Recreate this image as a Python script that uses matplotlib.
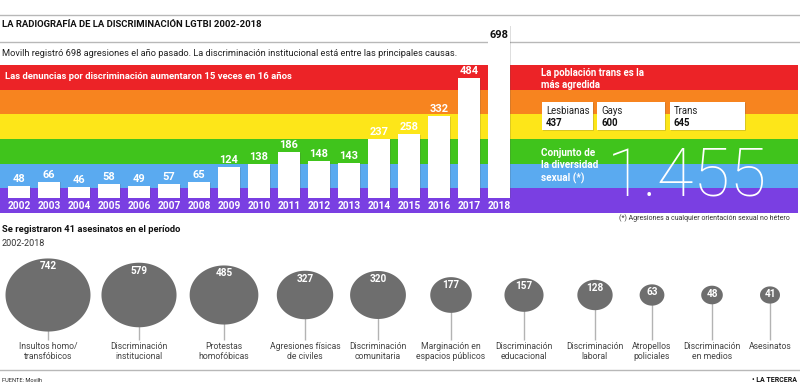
import numpy as np
import matplotlib
matplotlib.use('Agg')
import matplotlib.pyplot as plt
import matplotlib.patheffects as pe
from matplotlib.path import Path
from matplotlib.patches import Rectangle

plt.rcParams.update({
    'font.family': ['Roboto', 'DejaVu Sans'],
    'font.size': 7.5,
})

# ---- data ----
years = list(range(2002, 2019))
denuncias = [48, 66, 46, 58, 49, 57, 65, 124, 138, 186, 148, 143, 237, 258, 332, 484, 698]

grupos = ['Lesbianas', 'Gays', 'Trans']
grupos_val = [437, 600, 645]
total_diversidad = '1.455'

causas = ['Insultos homo/\ntransfóbicos', 'Discriminación\ninstitucional',
          'Protestas\nhomofóbicas', 'Agresiones físicas\nde civiles',
          'Discriminación\ncomunitaria', 'Marginación en\nespacios públicos',
          'Discriminación\neducacional', 'Discriminación\nlaboral',
          'Atropellos\npoliciales', 'Discriminación\nen medios', 'Asesinatos']
causas_val = [742, 579, 485, 327, 320, 177, 157, 128, 63, 48, 41]

# ---- layout / style ----
W, H = 800, 386
STRIPES = ['#ec2327', '#f7841f', '#fde619', '#40c41c', '#5aaaf0', '#7a3fe2']
BUBBLE_X = [48, 139, 224, 305, 378, 451, 524, 595, 652, 712, 770]
BUBBLE_Y = 295
BUBBLE_COL = '#6e6e6e'
PX = 72 / 100  # points per pixel

fig = plt.figure(figsize=(W / 100, H / 100), dpi=100)
renderer = fig.canvas.get_renderer()


def fit(txt, width_px):
    """scale a text's font so it spans width_px pixels"""
    w = txt.get_window_extent(renderer).width
    txt.set_fontsize(txt.get_fontsize() * width_px / w)
    return txt.get_fontsize()


bg = fig.add_axes([0, 0, 1, 1])
bg.set_xlim(0, W)
bg.set_ylim(H, 0)
bg.axis('off')

# header
for yl in (15, 41.5, 370):
    bg.plot([0, W], [yl, yl], color='#b8b8b8', lw=1)
fit(bg.text(2, 24.5, 'LA RADIOGRAFÍA DE LA DISCRIMINACIÓN LGTBI 2002-2018',
            fontweight='bold', va='center', color='#111111'), 258)
fit(bg.text(2, 53, 'Movilh registró 698 agresiones el año pasado. La discriminación '
            'institucional está entre las principales causas.',
            va='center', color='#222222'), 458)

# rainbow
band_h = (213 - 65) / len(STRIPES)
for i, c in enumerate(STRIPES):
    bg.add_patch(Rectangle((0, 65 + i * band_h), 798, band_h, color=c, lw=0))

fit(bg.text(5, 76.5, 'Las denuncias por discriminación aumentaron 15 veces en 16 años',
            fontweight='bold', color='white', va='center'), 285)

# right panel
fit(bg.text(541, 68.5, 'La población trans es la\nmás agredida',
            fontweight='bold', color='white', va='top', linespacing=1.2), 102)
box_x = [542, 597, 670]
box_w = [51, 68, 75]
fs_box = None
for bx_, bw, g, v in zip(box_x, box_w, grupos, grupos_val):
    r = Rectangle((bx_, 102), bw, 28, facecolor='white', lw=0)
    r.set_path_effects([pe.SimplePatchShadow(offset=(1, -1), alpha=0.2), pe.Normal()])
    bg.add_patch(r)
    t1 = bg.text(bx_ + 4, 111.5, g, color='#222222', va='center')
    t2 = bg.text(bx_ + 4, 123.5, str(v), fontweight='bold', color='#111111',
                 va='center')
    if fs_box is None:
        fs_box = fit(t1, 44)
    t1.set_fontsize(fs_box)
    t2.set_fontsize(fs_box)

fit(bg.text(541, 148, 'Conjunto de\nla diversidad\nsexual (*)',
            fontweight='bold', color='white', va='top', linespacing=1.25), 57)
big = bg.text(607, 170, total_diversidad, fontsize=50, color='white',
              va='center_baseline', ha='left', fontweight='light')
fit(big, 160)

fit(bg.text(790, 218, '(*) Agresiones a cualquier orientación sexual no hétero',
            ha='right', va='center', color='#333333'), 170)

# ---- bar chart ----
base_px, top_px, px_per_unit = 198, 8, 0.247
x0 = years[0] - 19 / 30
bx = fig.add_axes([0, (H - base_px) / H, 520 / W, (base_px - top_px) / H])
bx.patch.set_alpha(0)
bx.axis('off')
bx.set_xlim(x0, x0 + 520 / 30)
bx.set_ylim(0, (base_px - top_px) / px_per_unit)
bars = bx.bar(years, denuncias, width=22 / 30, color='white', lw=0)
for b in bars:
    b.set_path_effects([pe.SimplePatchShadow(offset=(1, -0.5), alpha=0.18), pe.Normal()])

probe = bx.text(0, 0, '186', fontweight='bold')
fs_val = fit(probe, 19)
probe.remove()
probe = bx.text(0, 0, '2002', fontweight='bold')
fs_year = fit(probe, 23)
probe.remove()

vmax = max(denuncias)
for yr, v in zip(years, denuncias):
    if v == vmax:
        bx.annotate(str(v), (yr, v), xytext=(0, -3), textcoords='offset points',
                    ha='center', va='top', fontsize=fs_val, fontweight='bold',
                    color='#111111')
    else:
        bx.annotate(str(v), (yr, v), xytext=(0, 1.5), textcoords='offset points',
                    ha='center', va='bottom', fontsize=fs_val, fontweight='bold',
                    color='white')
    bx.annotate(str(yr), (yr, 0), xytext=(0, -8 * PX), textcoords='offset points',
                ha='center', va='center', fontsize=fs_year, fontweight='bold',
                color='white')

# ---- bubbles ----
fit(bg.text(2, 230, 'Se registraron 41 asesinatos en el período',
            fontweight='bold', va='center', color='#111111'), 178)
fit(bg.text(2, 243, '2002-2018', va='center', color='#333333'), 43)

t = np.linspace(0, 2 * np.pi, 120)
ell = Path(np.column_stack([np.cos(t), 0.86 * np.sin(t)]), closed=True)
s_per_unit = (85 * PX) ** 2 / 742
sizes = [v * s_per_unit for v in causas_val]

bg.vlines(BUBBLE_X, BUBBLE_Y, 340, color='#b3b3b3', lw=1, zorder=1)
bg.scatter(BUBBLE_X, [BUBBLE_Y] * len(causas_val), s=sizes, marker=ell,
           color=BUBBLE_COL, lw=0, zorder=2)

probe = bg.text(0, 0, 'Agresiones físicas')
fs_cat = fit(probe, 71)
probe.remove()
probe = bg.text(0, 0, '742', fontweight='bold')
fs_bub = fit(probe, 17)
probe.remove()

for cx, v, s, lab in zip(BUBBLE_X, causas_val, sizes, causas):
    ry = 0.86 * np.sqrt(s) / PX / 2
    bg.text(cx, BUBBLE_Y - max(ry - 8, 0), str(v), ha='center', va='center',
            fontsize=fs_bub, fontweight='bold', color='white', zorder=3)
    bg.text(cx, 342, lab, ha='center', va='top', fontsize=fs_cat,
            color='#444444', linespacing=1.2)

fit(bg.text(2, 380, 'FUENTE: Movilh', va='center', color='#222222'), 40)
fit(bg.text(797, 380, '• LA TERCERA', fontweight='bold', ha='right',
            va='center', color='#111111'), 45)

fig.savefig('out.png', dpi=100)
